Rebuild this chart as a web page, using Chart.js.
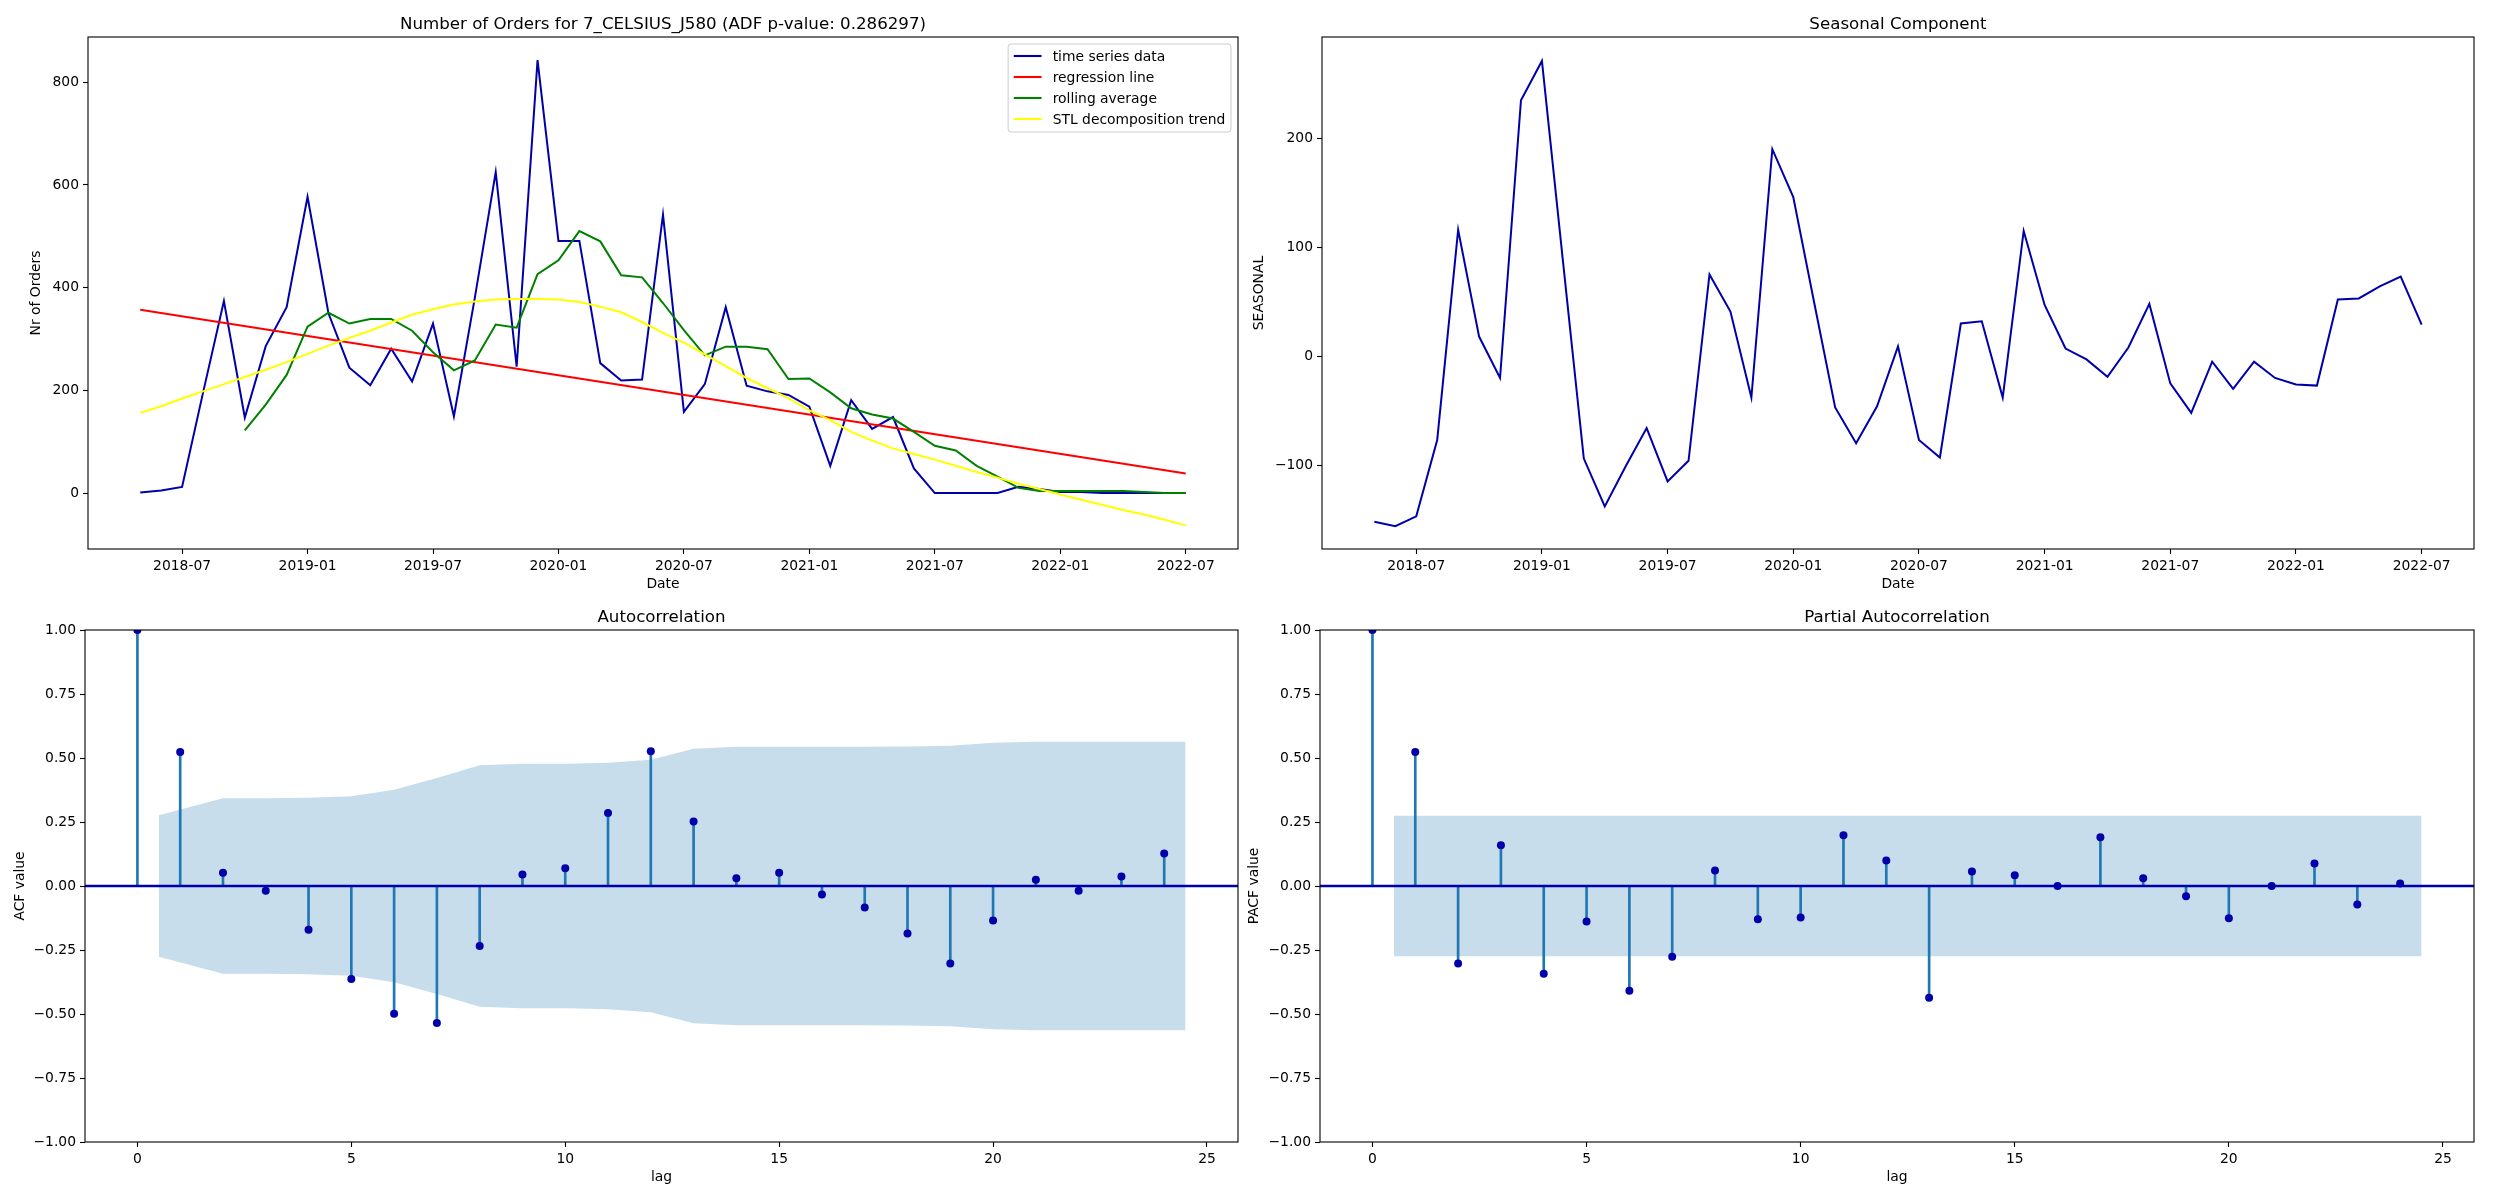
<!DOCTYPE html>
<html>
<head>
<meta charset="utf-8">
<script src="https://cdn.jsdelivr.net/npm/chart.js@4.4.1/dist/chart.umd.min.js"></script>
<style>
  body { margin: 0; background: #fff; width: 2500px; height: 1200px; position: relative; overflow: hidden; }
  canvas { position: absolute; }
</style>
</head>
<body>
<canvas id="orders" width="1250" height="600" style="left:0;top:0"></canvas>
<canvas id="seasonal" width="1260" height="600" style="left:1240px;top:0"></canvas>
<canvas id="acf" width="1250" height="600" style="left:0;top:600px"></canvas>
<canvas id="pacf" width="1260" height="600" style="left:1240px;top:600px"></canvas>
<script>
// monthly series, 2018-05 .. 2022-07
const months = [
  "2018-05", "2018-06", "2018-07", "2018-08", "2018-09", "2018-10", "2018-11", "2018-12",
  "2019-01", "2019-02", "2019-03", "2019-04", "2019-05", "2019-06", "2019-07", "2019-08", "2019-09", "2019-10", "2019-11", "2019-12",
  "2020-01", "2020-02", "2020-03", "2020-04", "2020-05", "2020-06", "2020-07", "2020-08", "2020-09", "2020-10", "2020-11", "2020-12",
  "2021-01", "2021-02", "2021-03", "2021-04", "2021-05", "2021-06", "2021-07", "2021-08", "2021-09", "2021-10", "2021-11", "2021-12",
  "2022-01", "2022-02", "2022-03", "2022-04", "2022-05", "2022-06", "2022-07",
];
const orders = [
  1, 5, 12, 195, 374, 147, 286, 362,
  577, 350, 244, 210, 281, 217, 330, 149, 380, 625, 246, 843,
  491, 491, 253, 219, 221, 542, 158, 212, 362, 209, 198, 191,
  168, 53, 181, 125, 148, 48, 0, 0, 0, 0, 12, 8,
  2, 2, 0, 0, 0, 0, 0,
];
const rolling = [
  null, null, null, null, null, 122, 172, 230,
  324, 351, 330, 339, 339, 316, 274, 239, 258, 328, 322, 426,
  453, 510, 490, 424, 420, 370, 317, 268, 285, 285, 280, 222,
  223, 196, 165, 153, 145, 119, 92, 83, 53, 32, 10, 4,
  4, 4, 4, 4, 2, 0, 0,
];
const stlTrend = [
  156, 169, 184, 198, 212, 226, 240, 255,
  271, 287, 302, 316, 332, 347, 358, 367, 373, 377, 378, 378,
  377, 372, 363, 352, 333, 312, 293, 270, 247, 224, 204, 185,
  161, 142, 119, 102, 87, 76, 65, 53, 41, 30, 18, 8,
  -3, -13, -23, -33, -42, -52, -63,
];
const regressionMonths = ["2018-05", "2022-07"];
const regressionValues = [357, 38];
const seasonal = [
  -152, -156, -147, -77, 116, 18, -20, 235,
  271, 88, -94, -138, -101, -66, -115, -96, 75, 41, -38, 190,
  146, 49, -47, -80, -46, 9, -77, -93, 30, 32, -38, 115,
  47, 7, -3, -19, 8, 48, -25, -52, -5, -30, -5, -20,
  -26, -27, 52, 53, 64, 73, 29,
];
const dateTicks = ["2018-07", "2019-01", "2019-07", "2020-01", "2020-07", "2021-01", "2021-07", "2022-01", "2022-07"];
const orderTicks = [0, 200, 400, 600, 800];
const seasonalTicks = [-100, 0, 100, 200];

// correlograms
const lags = [0, 1, 2, 3, 4, 5, 6, 7, 8, 9, 10, 11, 12, 13, 14, 15, 16, 17, 18, 19, 20, 21, 22, 23, 24];
const acfValues = [
  1.0, 0.523, 0.052, -0.019, -0.171, -0.363, -0.499, -0.535, -0.234, 0.045, 0.069, 0.285, 0.526,
  0.252, 0.030, 0.052, -0.033, -0.084, -0.186, -0.303, -0.135, 0.024, -0.019, 0.037, 0.127,
];
const pacfValues = [
  1.0, 0.523, -0.303, 0.159, -0.343, -0.139, -0.409, -0.276, 0.061, -0.130, -0.123, 0.198, 0.100,
  -0.437, 0.057, 0.042, 0.0, 0.190, 0.030, -0.040, -0.126, 0.0, 0.088, -0.072, 0.010,
];
const acfBandLags = [0.5, 2, 3, 4, 5, 6, 7, 8, 9, 10, 11, 12, 13, 14, 15, 16, 17, 18, 19, 20, 21, 22, 23, 24.5];
const acfUpper = [
  0.276, 0.343, 0.343, 0.345, 0.351, 0.376, 0.422, 0.472, 0.478, 0.478, 0.481, 0.493,
  0.536, 0.544, 0.544, 0.544, 0.544, 0.545, 0.548, 0.560, 0.563, 0.563, 0.563, 0.563,
];
const acfLower = [
  -0.276, -0.343, -0.343, -0.345, -0.351, -0.376, -0.422, -0.472, -0.478, -0.478, -0.481, -0.493,
  -0.536, -0.544, -0.544, -0.544, -0.544, -0.545, -0.548, -0.560, -0.563, -0.563, -0.563, -0.563,
];
const pacfBandLags = [0.5, 24.5];
const pacfUpper = [0.274, 0.274];
const pacfLower = [-0.274, -0.274];
const lagTicks = [0, 5, 10, 15, 20, 25];
const corrTicks = [-1, -0.75, -0.5, -0.25, 0, 0.25, 0.5, 0.75, 1];

const BLUE = "#0000aa";
const STEM = "#1f77b4";
const BAND = "rgba(31,119,180,0.25)";

Chart.defaults.font.family = "'DejaVu Sans'";
Chart.defaults.font.size = 13.89;
Chart.defaults.color = "#000";
Chart.defaults.animation = false;

const monthIdx = (m) => (Number(m.slice(0, 4)) - 2018) * 12 + Number(m.slice(5, 7)) - 1;
const toPoints = (xs, ys) => xs.map((x, i) => ({ x: x, y: ys[i] }));
const minus = (s) => s.replace("-", "\u2212");

// axes frame + title centred over the axes, like matplotlib
const frame = {
  id: "frame",
  afterDatasetsDraw(chart, args, opts) {
    const { ctx, chartArea: a } = chart;
    ctx.save();
    ctx.strokeStyle = "#000";
    ctx.lineWidth = 1.1;
    ctx.strokeRect(a.left, a.top, a.right - a.left, a.bottom - a.top);
    if (opts.title) {
      ctx.fillStyle = "#000";
      ctx.font = "16.67px 'DejaVu Sans'";
      ctx.textAlign = "center";
      ctx.textBaseline = "alphabetic";
      ctx.fillText(opts.title, (a.left + a.right) / 2, a.top - 8.3);
    }
    ctx.restore();
  },
};

// legend box in the upper right corner of the plot
const boxLegend = {
  id: "boxLegend",
  afterDraw(chart) {
    const { ctx, chartArea: a } = chart;
    const items = chart.data.datasets;
    ctx.save();
    ctx.font = "13.89px 'DejaVu Sans'";
    const textW = Math.max(...items.map((d) => ctx.measureText(d.label).width));
    const w = 5.6 + 27.8 + 11.1 + textW + 5.6;
    const h = 88;
    const x0 = a.right - 7 - w;
    const y0 = a.top + 7;
    ctx.beginPath();
    ctx.roundRect(x0, y0, w, h, 3);
    ctx.fillStyle = "rgba(255,255,255,0.8)";
    ctx.fill();
    ctx.strokeStyle = "#cccccc";
    ctx.lineWidth = 1;
    ctx.stroke();
    items.forEach((d, i) => {
      const y = y0 + 12 + i * 21;
      ctx.beginPath();
      ctx.moveTo(x0 + 5.6, y);
      ctx.lineTo(x0 + 5.6 + 27.8, y);
      ctx.strokeStyle = d.borderColor;
      ctx.lineWidth = 2.1;
      ctx.stroke();
      ctx.fillStyle = "#000";
      ctx.textBaseline = "middle";
      ctx.fillText(d.label, x0 + 5.6 + 27.8 + 11.1, y + 1);
    });
    ctx.restore();
  },
};

function xAxis(min, max, ticks, labels, title, height, titlePad) {
  return {
    type: "linear",
    min: min,
    max: max,
    offset: false,
    afterBuildTicks: (s) => { s.ticks = ticks.map((v) => ({ value: v })); },
    afterFit: (s) => { s.height = height; },
    grid: { offset: false, drawOnChartArea: false, drawTicks: true, tickLength: 5, tickWidth: 1.1, tickColor: "#000" },
    border: { display: false },
    ticks: { padding: 4, maxRotation: 0, autoSkip: false, callback: (v, i) => labels[i] },
    title: { display: true, text: title, padding: { top: 0, bottom: titlePad } },
  };
}

function yAxis(min, max, ticks, fmt, title, width, titlePad) {
  return {
    type: "linear",
    min: min,
    max: max,
    afterBuildTicks: (s) => { s.ticks = ticks.map((v) => ({ value: v })); },
    afterFit: (s) => { s.width = width; },
    grid: { offset: false, drawOnChartArea: false, drawTicks: true, tickLength: 5, tickWidth: 1.1, tickColor: "#000" },
    border: { display: false },
    ticks: { padding: 4, autoSkip: false, callback: (v) => minus(fmt(v)) },
    title: { display: true, text: title, padding: { top: titlePad, bottom: 0 } },
  };
}

const lineStyle = { pointRadius: 0, pointHoverRadius: 0, borderWidth: 2, tension: 0, fill: false };
const monthX = months.map(monthIdx);
const xMin = monthIdx(months[0]) - 2.5;
const xMax = monthIdx(months[months.length - 1]) + 2.5;

new Chart(document.getElementById("orders"), {
  type: "line",
  data: {
    datasets: [
      { label: "time series data", data: toPoints(monthX, orders), borderColor: BLUE, order: 4, ...lineStyle },
      { label: "regression line", data: toPoints(regressionMonths.map(monthIdx), regressionValues), borderColor: "#ff0000", order: 3, ...lineStyle },
      { label: "rolling average", data: toPoints(monthX, rolling), borderColor: "#008000", order: 2, ...lineStyle },
      { label: "STL decomposition trend", data: toPoints(monthX, stlTrend), borderColor: "#ffff00", order: 1, ...lineStyle },
    ],
  },
  options: {
    responsive: false,
    devicePixelRatio: 1,
    layout: { autoPadding: false, padding: { left: 0, right: 12, top: 37, bottom: 0 } },
    scales: {
      x: xAxis(xMin, xMax, dateTicks.map(monthIdx), dateTicks, "Date", 51, 7.7),
      y: yAxis(-109, 888, orderTicks, (v) => String(v), "Nr of Orders", 88, 27.7),
    },
    plugins: {
      legend: { display: false },
      tooltip: { enabled: false },
      frame: { title: "Number of Orders for 7_CELSIUS_J580 (ADF p-value: 0.286297)" },
    },
  },
  plugins: [frame, boxLegend],
});

new Chart(document.getElementById("seasonal"), {
  type: "line",
  data: {
    datasets: [
      { label: "seasonal", data: toPoints(monthX, seasonal), borderColor: BLUE, ...lineStyle },
    ],
  },
  options: {
    responsive: false,
    devicePixelRatio: 1,
    layout: { autoPadding: false, padding: { left: 0, right: 26, top: 37, bottom: 0 } },
    scales: {
      x: xAxis(xMin, xMax, dateTicks.map(monthIdx), dateTicks, "Date", 51, 7.7),
      y: yAxis(-177, 293, seasonalTicks, (v) => String(v), "SEASONAL", 82, 11.3),
    },
    plugins: {
      legend: { display: false },
      tooltip: { enabled: false },
      frame: { title: "Seasonal Component" },
    },
  },
  plugins: [frame],
});

function correlogram(id, values, bandLags, upper, lower, title, yTitle, yWidth, yTitlePad, rightPad) {
  const lagMin = -1.225;
  const lagMax = 25.725;
  new Chart(document.getElementById(id), {
    type: "line",
    data: {
      datasets: [
        { data: toPoints(bandLags, upper), borderWidth: 0, pointRadius: 0, fill: false, order: 6 },
        { data: toPoints(bandLags, lower), borderWidth: 0, pointRadius: 0, fill: "-1", backgroundColor: BAND, order: 5 },
        { type: "bar", data: toPoints(lags, values), backgroundColor: STEM, barThickness: 2, borderWidth: 0, order: 4 },
        { data: toPoints([lagMin, lagMax], [0, 0]), borderColor: BLUE, borderWidth: 2.5, pointRadius: 0, order: 3 },
        { type: "scatter", data: toPoints(lags, values), backgroundColor: BLUE, borderWidth: 0, pointRadius: 4, clip: 0, order: 1 },
      ],
    },
    options: {
      responsive: false,
      devicePixelRatio: 1,
      layout: { autoPadding: false, padding: { left: 0, right: rightPad, top: 30, bottom: 0 } },
      scales: {
        x: xAxis(lagMin, lagMax, lagTicks, lagTicks.map(String), "lag", 58, 14.7),
        y: yAxis(-1, 1, corrTicks, (v) => v.toFixed(2), yTitle, yWidth, yTitlePad),
      },
      plugins: {
        legend: { display: false },
        tooltip: { enabled: false },
        frame: { title: title },
      },
    },
    plugins: [frame],
  });
}

correlogram("acf", acfValues, acfBandLags, acfUpper, acfLower, "Autocorrelation", "ACF value", 85, 12.4, 12);
correlogram("pacf", pacfValues, pacfBandLags, pacfUpper, pacfLower, "Partial Autocorrelation", "PACF value", 80, 5.7, 26);
</script>
</body>
</html>
